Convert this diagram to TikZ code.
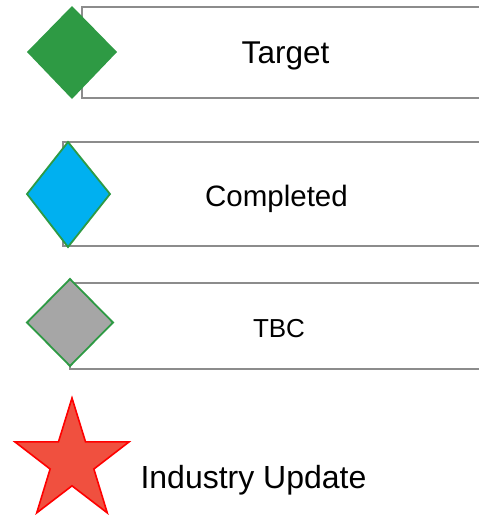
\documentclass[tikz,border=0pt]{standalone}
\usepackage{fontspec}
\setmainfont{Liberation Sans}
\definecolor{dgreen}{HTML}{2E9A44}
\definecolor{cblue}{HTML}{00B0F0}
\definecolor{tgray}{HTML}{A6A6A6}
\definecolor{rgray}{HTML}{8C8C8C}
\definecolor{sred}{HTML}{F0503F}
\begin{document}
\begin{tikzpicture}[x=1pt,y=-1pt,
  framebox/.style={draw=rgray,line width=2.2pt},
  lbl/.style={anchor=base,inner sep=0pt,text=black}]
\useasboundingbox (0,0) rectangle (479,515);
\clip (0,0) rectangle (479,515);
% frames
\draw[framebox] (500,7) -- (82,7) -- (82,98) -- (500,98);
\draw[framebox] (500,142) -- (63,142) -- (63,246) -- (500,246);
\draw[framebox] (500,283) -- (70,283) -- (70,369) -- (500,369);
% diamonds
\fill[dgreen] (72,6) -- (117,52) -- (72,99) -- (27,52) -- cycle;
\draw[dgreen,line width=1.8pt,fill=cblue] (68,142) -- (110,194) -- (68,247) -- (27,194) -- cycle;
\draw[dgreen,line width=1.8pt,fill=tgray] (70,279) -- (113,322.5) -- (70,366) -- (27,322.5) -- cycle;
% star
\draw[red,line width=1.6pt,fill=sred,line join=miter,shift={(72,461.5)},yscale=1.058]
  (-90:60) -- (-54:23) -- (-18:60) -- (18:23) -- (54:60) -- (90:23)
  -- (126:60) -- (162:23) -- (198:60) -- (234:23) -- cycle;
% labels
\node[lbl,font=\fontsize{31.5}{36}\selectfont] (target) at (285.5,63) {Target};
\node[lbl,font=\fontsize{29.5}{35}\selectfont] (completed) at (276.5,206.5) {Completed};
\node[lbl,font=\fontsize{26}{31}\selectfont] (tbc) at (279,337) {TBC};
\node[lbl,font=\fontsize{32}{38}\selectfont] (industry) at (253.5,488) {Industry Update};
\end{tikzpicture}
\end{document}
